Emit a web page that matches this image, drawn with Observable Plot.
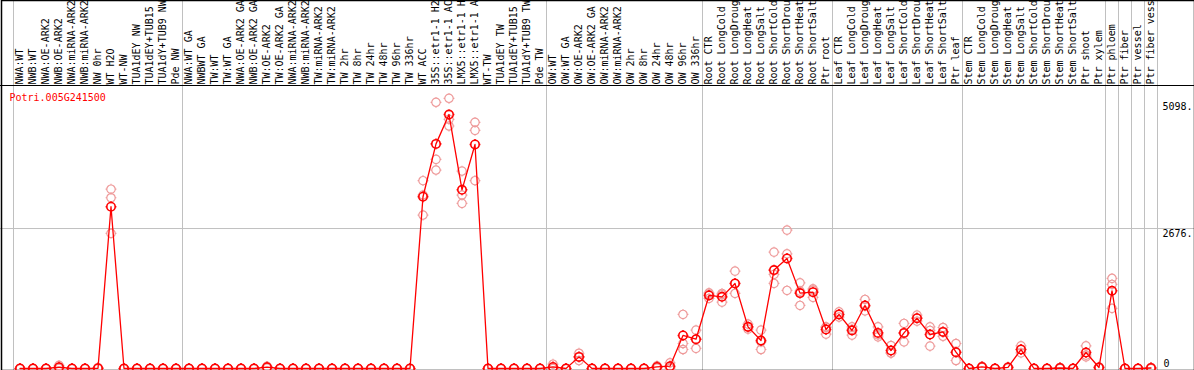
<!DOCTYPE html>
<html><head><meta charset="utf-8">
<script src="https://cdn.jsdelivr.net/npm/d3@7"></script>
<script src="https://cdn.jsdelivr.net/npm/@observablehq/plot@0.6"></script>
<style>
html,body{margin:0;padding:0;background:#fff;}
svg{display:block;}
</style>
</head><body><div id="chart"></div>
<script>
const geneId = "Potri.005G241500";
const categories = [
 "NWA:WT","NWB:WT","NWA:OE-ARK2","NWB:OE-ARK2","NWA:miRNA-ARK2","NWB:miRNA-ARK2","NW 0hr","WT H2O","WT-NW","TUA1dEY NW","TUA1dEY+TUB15 NW","TUA1dY+TUB9 NW","Pde NW",
 "NWA:WT GA","NWBWT GA","TW:WT","TW:WT GA","NWA:OE-ARK2 GA","NWB:OE-ARK2 GA","TW:OE-ARK2","TW:OE-ARK2 GA","NWA:miRNA-ARK2 GA","NWB:miRNA-ARK2 GA","TW:miRNA-ARK2","TW:miRNA-ARK2 GA",
 "TW 2hr","TW 8hr","TW 24hr","TW 48hr","TW 96hr","TW 336hr","WT ACC","35S::etr1-1 H2O","35S::etr1-1 ACC","LMX5::etr1-1 H2O","LMX5::etr1-1 ACC","WT-TW","TUA1dEY TW","TUA1dEY+TUB15 TW","TUA1dY+TUB9 TW","Pde TW",
 "OW:WT","OW:WT GA","OW:OE-ARK2","OW:OE-ARK2 GA","OW:miRNA-ARK2","OW:miRNA-ARK2 GA","OW 2hr","OW 8hr","OW 24hr","OW 48hr","OW 96hr","OW 336hr",
 "Root CTR","Root LongCold","Root LongDrought","Root LongHeat","Root LongSalt","Root ShortCold","Root ShortDrought","Root ShortHeat","Root ShortSalt","Ptr root",
 "Leaf CTR","Leaf LongCold","Leaf LongDrought","Leaf LongHeat","Leaf LongSalt","Leaf ShortCold","Leaf ShortDrought","Leaf ShortHeat","Leaf ShortSalt","Ptr leaf",
 "Stem CTR","Stem LongCold","Stem LongDrought","Stem LongHeat","Stem LongSalt","Stem ShortCold","Stem ShortDrought","Stem ShortHeat","Stem ShortSalt","Ptr shoot",
 "Ptr xylem","Ptr phloem","Ptr fiber","Ptr vessel","Ptr fiber vessel"
];
// mean expression per category
const means = [
 0,0,0,25,0,0,5,3092,0,0,0,0,0,
 0,0,0,0,0,0,25,0,0,0,0,0,
 0,0,0,0,0,0,3283,4294,4855,3416,4283,0,0,0,0,0,
 30,0,222,0,0,0,0,0,30,44,631,560,
 1396,1370,1626,796,535,1881,2104,1441,1460,746,
 1033,727,1205,681,344,681,962,650,700,312,
 0,30,0,20,363,0,0,10,0,306,
 20,1485,0,0,10
];
// replicate values
const rep1 = [
 0,0,0,60,0,0,15,3428,0,0,0,0,0,
 0,0,0,0,0,0,40,0,0,0,0,0,
 0,0,0,0,0,0,3590,5089,5165,3775,4706,0,0,0,0,0,
 82,0,292,0,0,0,0,0,50,107,1033,733,
 1447,1435,1861,848,733,2225,2646,1638,1523,796,
 1083,796,1320,796,440,861,1020,796,784,478,
 0,40,0,30,433,0,0,20,0,433,
 30,1722,0,0,20
];
const rep2 = [
 0,0,0,10,0,0,0,3264,0,0,0,0,0,
 0,0,0,0,0,0,25,0,0,0,0,0,
 0,0,0,0,0,0,3316,3998,4764,3316,4553,0,0,0,0,0,
 5,0,222,0,0,0,0,0,30,20,478,555,
 1421,1407,1626,796,510,1798,2193,1480,1500,786,
 1033,748,1193,642,294,673,962,727,700,305,
 0,30,0,20,363,0,0,10,0,254,
 20,1607,0,0,10
];
const rep3 = [
 0,0,0,5,0,0,0,2583,0,0,0,0,0,
 0,0,0,0,0,0,10,0,0,0,0,0,
 0,0,0,0,0,0,2933,3794,4636,3157,3590,0,0,0,0,0,
 3,0,152,0,0,0,0,0,10,5,363,383,
 1339,1268,1435,752,363,1626,1492,1205,1358,656,
 983,637,1102,605,298,509,904,427,616,153,
 0,20,0,10,298,0,0,0,0,222,
 10,1148,0,0,0
];
const yTicks = [5098, 2676, 0];
const yTickLabels = ["5098.", "2676.", "0"];
const groupStarts = ["NWA:WT","NWA:WT GA","OW:WT","Root CTR","Leaf CTR","Stem CTR","Ptr phloem","Ptr fiber","Ptr vessel","Ptr fiber vessel"];
const lastCategory = ["Ptr fiber vessel"];
const yMax = 5410;
const labelChars = 14;

const meanData = categories.map((c, i) => ({cat: c, v: means[i]}));
const repData = [];
categories.forEach((c, i) => { [rep1, rep2, rep3].forEach(r => repData.push({cat: c, v: r[i]})); });

const tickedCircle = {
  draw(ctx, size) {
    const r = Math.sqrt(size / Math.PI);
    ctx.moveTo(r, 0); ctx.arc(0, 0, r, 0, 2 * Math.PI);
    ctx.moveTo(r, 0); ctx.lineTo(r + 1.2, 0);
    ctx.moveTo(-r, 0); ctx.lineTo(-r - 1.2, 0);
    ctx.moveTo(0, r); ctx.lineTo(0, r + 1.2);
    ctx.moveTo(0, -r); ctx.lineTo(0, -r - 1.2);
  }
};

const chart = Plot.plot({
  width: 1194,
  height: 370,
  marginTop: 0, marginBottom: 0, marginLeft: 0, marginRight: 0,
  style: {fontFamily: "'DejaVu Sans Mono', monospace", fontSize: "10px", background: "#fff", overflow: "hidden"},
  x: {type: "band", domain: categories, range: [12.5, 1156.5], padding: 0, axis: null},
  y: {domain: [0, yMax], range: [368, 85], axis: null},
  marks: [
    Plot.ruleX(groupStarts, {x: d => d, dx: -6.5, stroke: "#c0c0c0", strokeWidth: 1}),
    Plot.ruleX(lastCategory, {x: d => d, dx: 6.5, stroke: "#c0c0c0", strokeWidth: 1}),
    Plot.ruleY([yTicks[1]], {stroke: "#c0c0c0", strokeWidth: 1}),
    Plot.ruleY([yMax], {stroke: "#000", strokeWidth: 1}),
    Plot.frame({stroke: "#000", strokeWidth: 1.5, insetLeft: 1}),
    Plot.text(categories, {x: d => d, text: d => d.slice(0, labelChars), frameAnchor: "top", dy: 84, rotate: -90, textAnchor: "start", lineAnchor: "middle", fill: "#000", fontSize: 10}),
    Plot.text([geneId], {frameAnchor: "top-left", dx: 9, dy: 97, textAnchor: "start", lineAnchor: "middle", fill: "#ff0000", fontSize: 10}),
    Plot.text(yTicks.slice(0, 2), {y: d => d, text: (d, i) => yTickLabels[i], frameAnchor: "left", dx: 1162, dy: 1, textAnchor: "start", lineAnchor: "top", fill: "#000", fontSize: 10}),
    Plot.text(yTicks.slice(2), {y: d => d, text: () => yTickLabels[2], frameAnchor: "left", dx: 1163, dy: -2, textAnchor: "start", lineAnchor: "bottom", fill: "#000", fontSize: 10}),
    Plot.dot(repData, {x: "cat", y: "v", r: 4.2, symbol: tickedCircle, stroke: "#ee9a9a", strokeWidth: 1.2, fill: "none"}),
    Plot.line(meanData, {x: "cat", y: "v", stroke: "#ff0000", strokeWidth: 1.3}),
    Plot.dot(meanData, {x: "cat", y: "v", r: 4.2, symbol: tickedCircle, stroke: "#ff0000", strokeWidth: 1.6, fill: "none"})
  ]
});
document.getElementById("chart").appendChild(chart);
</script>
</body></html>
